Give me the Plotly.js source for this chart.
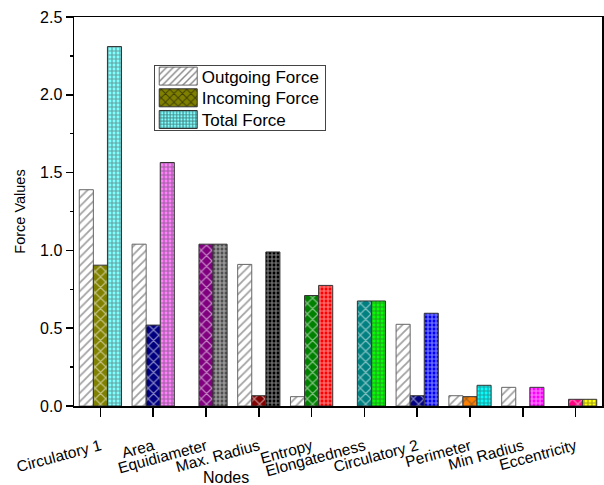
<!DOCTYPE html>
<html><head><meta charset="utf-8">
<script src="https://cdn.plot.ly/plotly-3.0.1.min.js"></script>
<style>body{margin:0;background:#fff}#c{width:604px;height:485px}</style>
</head><body><div id="c"></div>
<script>
const nodes = ["Circulatory 1","Area","Equidiameter","Max. Radius","Entropy","Elongatedness","Circulatory 2","Perimeter","Min Radius","Eccentricity"];
const outgoing = [1.39, 1.04, null, 0.91, 0.06, null, 0.525, 0.066, 0.12, null];
const incoming = [0.905, 0.52, 1.04, 0.066, 0.71, 0.675, 0.066, 0.06, null, 0.043];
const total = [2.31, 1.565, 1.04, 0.99, 0.775, 0.675, 0.596, 0.133, 0.12, 0.043];
const outColors = ["#ffffff","#ffffff","#ffffff","#ffffff","#ffffff","#ffffff","#ffffff","#ffffff","#ffffff","#ffffff"];
const inColors = ["#808000","#000080","#800080","#800000","#008000","#008080","#000080","#ff8000","#ffffff","#ff0080"];
const totColors = ["#80ffff","#ff80ff","#505050","#000000","#ff0000","#00ff00","#0000ff","#00ffff","#ff00ff","#ffff00"];

const fam = "Liberation Sans, Arial, sans-serif";
const traces = [
  {type:"bar", name:"Outgoing Force", x:nodes, y:outgoing,
   marker:{color:outColors, line:{color:"#666", width:1},
     pattern:{shape:"/", fillmode:"overlay", fgcolor:"#111", size:6, solidity:0.3}}},
  {type:"bar", name:"Incoming Force", x:nodes, y:incoming,
   marker:{color:inColors, line:{color:"#333", width:1},
     pattern:{shape:"x", fillmode:"overlay", fgcolor:"#000", size:7.5, solidity:0.3}}},
  {type:"bar", name:"Total Force", x:nodes, y:total,
   marker:{color:totColors, line:{color:"#333", width:1},
     pattern:{shape:"+", fillmode:"overlay", fgcolor:"#000", size:4, solidity:0.5}}}
];
const layout = {
  width:604, height:485,
  margin:{l:74, r:2, t:17, b:79},
  paper_bgcolor:"#fff", plot_bgcolor:"#fff",
  font:{family:fam, size:14, color:"#000"},
  barmode:"group", bargap:0.2, bargroupgap:0,
  showlegend:true,
  legend:{x:0.151, y:0.877, xanchor:"left", yanchor:"top",
    bgcolor:"#fff", bordercolor:"#444", borderwidth:1,
    font:{family:fam, size:17, color:"#000"}, tracegroupgap:0, itemwidth:37},
  xaxis:{type:"category", showline:true, linecolor:"#000", linewidth:1.5, mirror:true,
    ticks:"outside", ticklen:9, tickwidth:1.5, tickcolor:"#000",
    tickangle:-15, ticklabelstandoff:15, showgrid:false, zeroline:false,
    tickfont:{family:fam, size:15.5, color:"#000"}},
  xaxis2:{overlaying:"x", anchor:"y", side:"bottom", range:[-0.5, 9.5],
    tickvals:[-0.5,0.5,1.5,2.5,3.5,4.5,5.5,6.5,7.5,8.5,9.5], showticklabels:false,
    ticks:"outside", ticklen:5, tickwidth:1.5, tickcolor:"#000",
    showgrid:false, zeroline:false, showline:false},
  yaxis:{range:[0, 2.5], showline:true, linecolor:"#000", linewidth:1.5, mirror:true,
    ticks:"outside", ticklen:7, tickwidth:1.5, tickcolor:"#000", dtick:0.5, tickformat:".1f",
    minor:{ticks:"outside", ticklen:3, dtick:0.25, tickwidth:1.5, tickcolor:"#000"},
    showgrid:false, zeroline:false,
    tickfont:{family:fam, size:16, color:"#000"},
    title:{text:"Force Values", font:{family:fam, size:14.5, color:"#000"}, standoff:11}},
  annotations:[{text:"Nodes", xref:"paper", yref:"paper", x:0.287, y:-0.185,
    xanchor:"center", yanchor:"middle", showarrow:false,
    font:{family:fam, size:16, color:"#000"}}]
};
Plotly.newPlot("c", traces, layout, {displayModeBar:false, staticPlot:true}).then(function(gd){
  gd.querySelectorAll(".legend .legendpoints path").forEach(function(p){
    p.setAttribute("d", "M-19,-9H19V9H-19Z");
  });
  const items = gd.querySelectorAll(".legend g.traces");
  let y0 = null;
  items.forEach(function(g, i){
    const m = /translate\(\s*([-\d.]+)[ ,]+([-\d.]+)\s*\)/.exec(g.getAttribute("transform") || "");
    if (!m) return;
    const x = parseFloat(m[1]), y = parseFloat(m[2]);
    if (y0 === null) y0 = y - 7.3;
    g.setAttribute("transform", "translate(" + x + "," + (y0 + i * 21.7) + ")");
  });
  const bg = gd.querySelector(".legend rect.bg");
  if (bg) bg.setAttribute("height", "65");
});
</script></body></html>
